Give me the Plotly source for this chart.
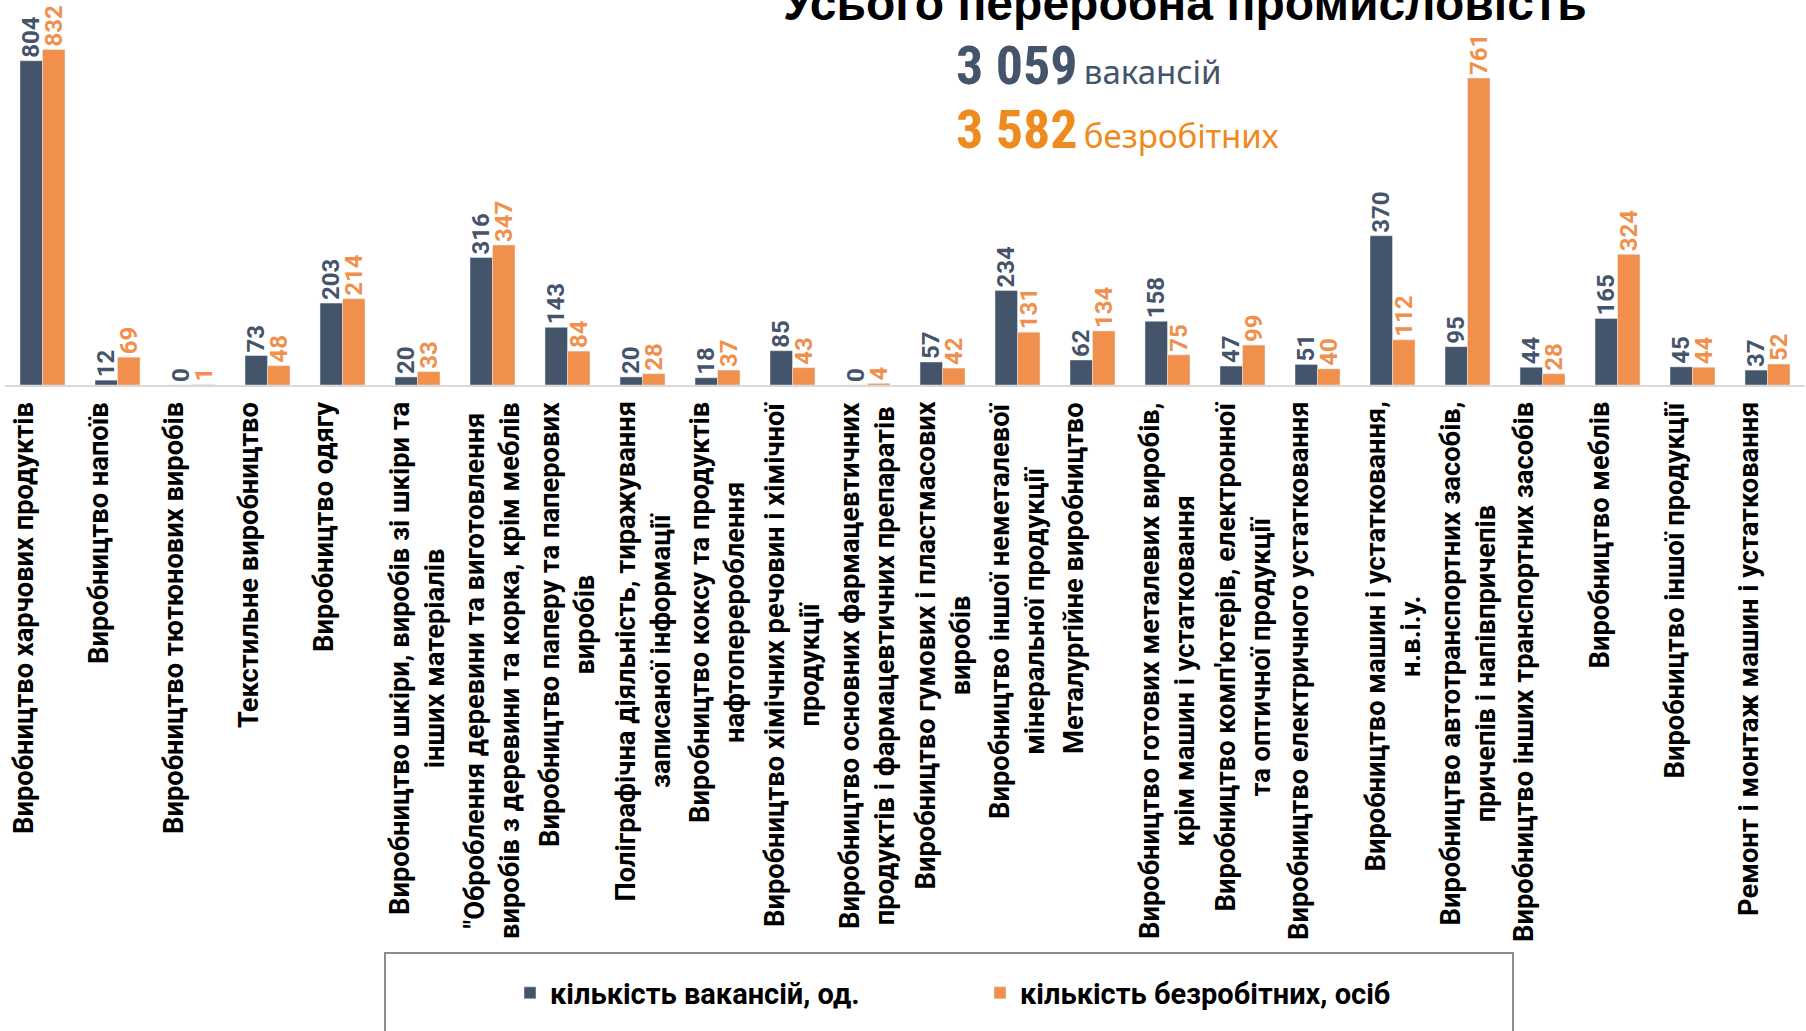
import plotly.graph_objects as go

categories = [
    "Виробництво харчових продуктів",
    "Виробництво напоїв",
    "Виробництво тютюнових виробів",
    "Текстильне виробництво",
    "Виробництво одягу",
    "Виробництво шкіри, виробів зі шкіри та<br>інших матеріалів",
    "\"Оброблення деревини та виготовлення<br>виробів з деревини та корка, крім меблів",
    "Виробництво паперу та паперових<br>виробів",
    "Поліграфічна діяльність, тиражування<br>записаної інформації",
    "Виробництво коксу та продуктів<br>нафтоперероблення",
    "Виробництво хімічних речовин і хімічної<br>продукції",
    "Виробництво основних фармацевтичних<br>продуктів і фармацевтичних препаратів",
    "Виробництво гумових і пластмасових<br>виробів",
    "Виробництво іншої неметалевої<br>мінеральної продукції",
    "Металургійне виробництво",
    "Виробництво готових металевих виробів,<br>крім машин і устатковання",
    "Виробництво комп'ютерів, електронної<br>та оптичної продукції",
    "Виробництво електричного устатковання",
    "Виробництво машин і устатковання,<br>н.в.і.у.",
    "Виробництво автотранспортних засобів,<br>причепів і напівпричепів",
    "Виробництво інших транспортних засобів",
    "Виробництво меблів",
    "Виробництво іншої продукції",
    "Ремонт і монтаж машин і устатковання",
]

vacancies = [804, 12, 0, 73, 203, 20, 316, 143, 20, 18, 85, 0, 57, 234, 62, 158, 47, 51, 370, 95, 44, 165, 45, 37]
unemployed = [832, 69, 1, 48, 214, 33, 347, 84, 28, 37, 43, 4, 42, 131, 134, 75, 99, 40, 112, 761, 28, 324, 44, 52]

series_names = ["кількість вакансій, од.", "кількість безробітних, осіб"]
title_text = "Усього переробна промисловість"
total_vacancies = "3 059"
total_vacancies_word = "вакансій"
total_unemployed = "3 582"
total_unemployed_word = "безробітних"

DARK = "#44546A"
ORANGE = "#F0904C"
ORANGE_TXT = "#EE8A1E"

W, H = 1806, 1031
ML, MR, MT, MB = 5, 1, 22, 646
PW = W - ML - MR
PH = H - MT - MB
BASE = MT + PH


def px_x(px):
    return (px - ML) / PW


def px_y(py):
    return (BASE - py) / PH


label_family = "Roboto, Noto Sans, sans-serif"

fig = go.Figure()
fig.add_trace(go.Bar(
    x=categories, y=vacancies, name=series_names[0],
    marker=dict(color=DARK),
    text=[str(v) for v in vacancies], textposition="outside", textangle=-90,
    textfont=dict(family=label_family, size=24, color=DARK, weight="bold"),
    cliponaxis=False, constraintext="none",
))
fig.add_trace(go.Bar(
    x=categories, y=unemployed, name=series_names[1],
    marker=dict(color=ORANGE),
    text=[str(v) for v in unemployed], textposition="outside", textangle=-90,
    textfont=dict(family=label_family, size=24, color=ORANGE, weight="bold"),
    cliponaxis=False, constraintext="none",
))

annotations = []
LINE_SP = 37
for c in categories:
    nlines = c.count("<br>") + 1
    annotations.append(dict(
        x=c, xref="x", y=px_y(400), yref="paper",
        text="<b>" + c + "</b>", showarrow=False, textangle=-90,
        xanchor="center", yanchor="top", align="center",
        xshift=-(LINE_SP / 2) if nlines == 1 else 0,
        font=dict(family=label_family, size=27.3, color="black"),
    ))

annotations.append(dict(
    x=px_x(1185), xref="paper", y=px_y(4), yref="paper",
    text="<b>" + title_text + "</b>", showarrow=False,
    xanchor="center", yanchor="middle",
    font=dict(family="Liberation Sans, Arial, sans-serif", size=48, color="black"),
))

num_font = "Liberation Sans Narrow, Roboto Condensed, Roboto, sans-serif"
word_font = "Noto Sans, Open Sans, sans-serif"
row_tpl = ("<span style='font-family:%s;font-size:54px;font-weight:bold;color:%s'>%s</span>"
           "  <span style='font-family:%s;font-size:33px;color:%s'>%s</span>")
annotations.append(dict(
    x=px_x(954), xref="paper", y=px_y(65), yref="paper",
    text=row_tpl % (num_font, DARK, total_vacancies, word_font, DARK, total_vacancies_word),
    showarrow=False, xanchor="left", yanchor="middle",
))
annotations.append(dict(
    x=px_x(954), xref="paper", y=px_y(129), yref="paper",
    text=row_tpl % (num_font, ORANGE_TXT, total_unemployed, word_font, ORANGE_TXT, total_unemployed_word),
    showarrow=False, xanchor="left", yanchor="middle",
))

fig.update_layout(
    width=W, height=H,
    margin=dict(l=ML, r=MR, t=MT, b=MB, pad=0),
    paper_bgcolor="white", plot_bgcolor="white",
    barmode="group", bargap=0.4, bargroupgap=0,
    annotations=annotations,
    showlegend=True,
    legend=dict(
        orientation="h", x=px_x(510), xanchor="left", y=px_y(993), yanchor="middle",
        font=dict(family=label_family, size=29, color="black", weight="bold"),
        bgcolor="rgba(0,0,0,0)", entrywidth=425, entrywidthmode="pixels",
    ),
    shapes=[dict(
        type="rect", xref="paper", yref="paper",
        x0=px_x(385), x1=px_x(1513), y0=px_y(953), y1=px_y(1040),
        line=dict(color="#8C8C8C", width=2), fillcolor="rgba(0,0,0,0)", layer="below",
    )],
    xaxis=dict(
        showticklabels=False, ticks="", showgrid=False, zeroline=False,
        showline=True, linecolor="#D9D9D9", linewidth=2,
    ),
    yaxis=dict(visible=False, range=[0, 900], showgrid=False, zeroline=False),
)

fig.write_html("out.html", config={"displayModeBar": False},
               post_script="document.body.style.margin='0';")
